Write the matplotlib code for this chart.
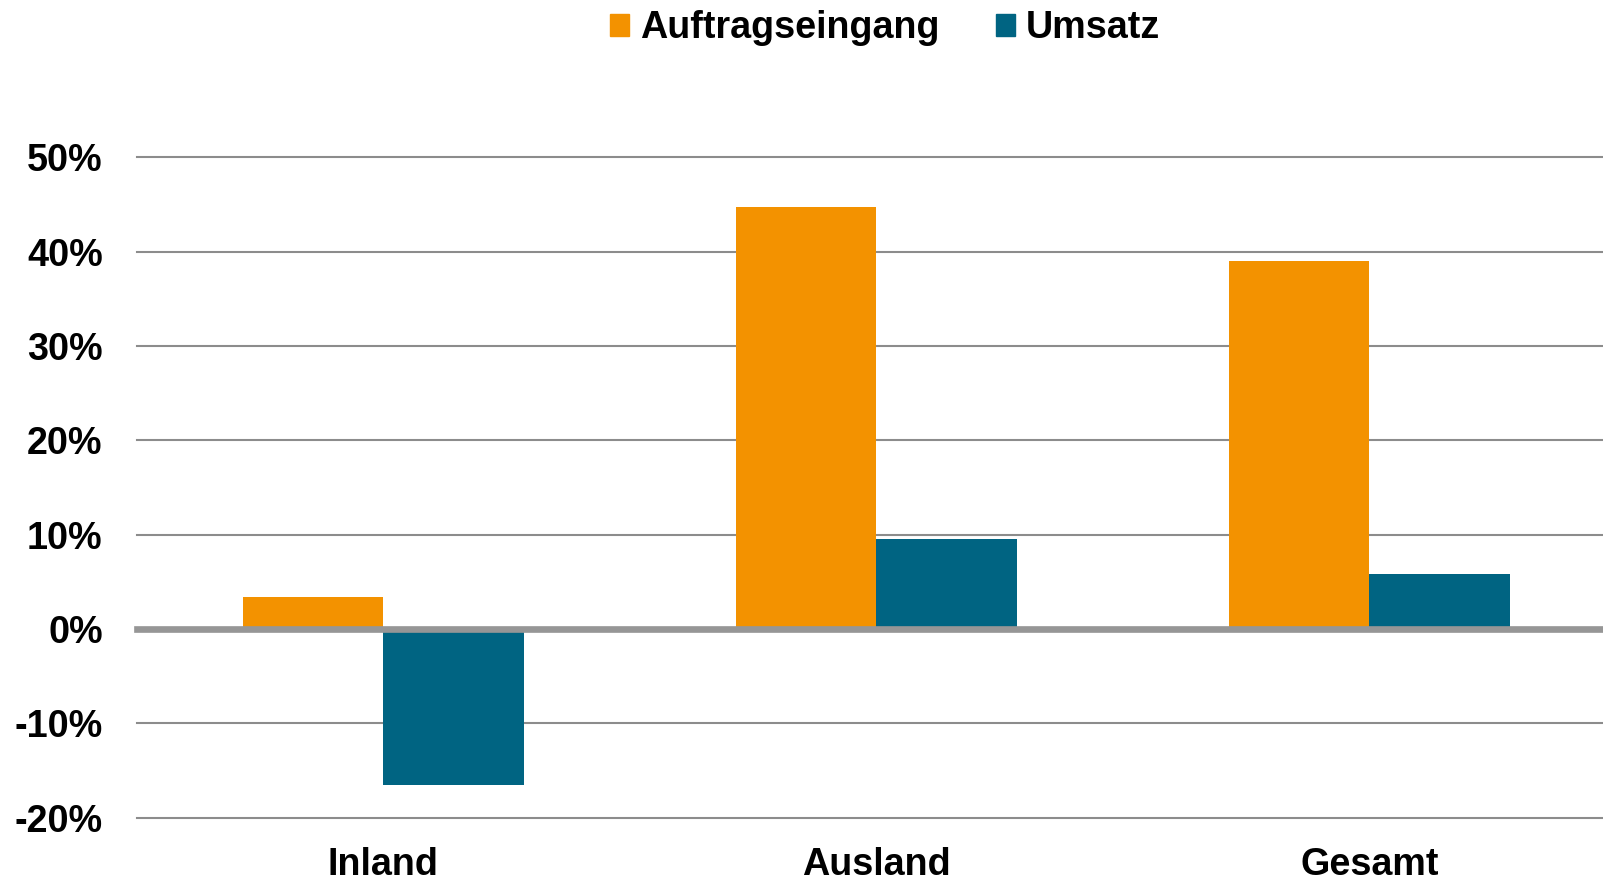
import matplotlib
matplotlib.use("Agg")
import matplotlib.pyplot as plt
import matplotlib.patches as mpatches
import numpy as np
from matplotlib.ticker import FuncFormatter

# ── data ──────────────────────────────────────────────────────────────────────
categories = ["Inland", "Ausland", "Gesamt"]
auftragseingang = [0.034, 0.447, 0.390]
umsatz = [-0.165, 0.095, 0.058]
y_ticks = [-0.2, -0.1, 0.0, 0.1, 0.2, 0.3, 0.4, 0.5]

# ── style ─────────────────────────────────────────────────────────────────────
C_ORANGE = "#F39200"
C_TEAL = "#006482"
C_GRID = "#8C8C8C"
C_ZERO = "#969696"
FONT = ["Liberation Sans", "DejaVu Sans"]
FS = 27.2

plt.rcParams["font.family"] = FONT
plt.rcParams["font.weight"] = "bold"

fig = plt.figure(figsize=(16.03, 8.80), dpi=100)
ax = fig.add_axes([0.0853, 0.0709, 0.9147, 0.7502])

x = np.arange(len(categories))
w = 0.2854
ax.bar(x - w / 2, auftragseingang, width=w, color=C_ORANGE, zorder=3,
       label="Auftragseingang")
ax.bar(x + w / 2, umsatz, width=w, color=C_TEAL, zorder=3, label="Umsatz")

# gridlines (behind bars) and heavy zero line (on top)
for t in y_ticks:
    if t == 0:
        ax.axhline(0, color=C_ZERO, lw=4.8, zorder=4, clip_on=False)
    else:
        ax.axhline(t, color=C_GRID, lw=1.5, zorder=1, clip_on=False)

ax.set_xlim(-0.5, 2.474)
ax.set_ylim(-0.2, 0.5)
ax.set_yticks(y_ticks)
ax.yaxis.set_major_formatter(FuncFormatter(lambda v, _: f"{v * 100:.0f}%"))
ax.set_xticks(x)
ax.set_xticklabels(categories)
ax.tick_params(axis="y", length=0, pad=24.5, labelsize=FS)
ax.tick_params(axis="x", length=0, pad=21, labelsize=FS)
for lab in ax.get_xticklabels() + ax.get_yticklabels():
    lab.set_fontweight("bold")
for s in ax.spines.values():
    s.set_visible(False)

handles = [
    mpatches.Patch(color=C_ORANGE, label="Auftragseingang"),
    mpatches.Patch(color=C_TEAL, label="Umsatz"),
]
fig.legend(handles=handles, loc="center", bbox_to_anchor=(0.552, 0.968),
           ncol=2, frameon=False, prop={"weight": "bold", "size": FS},
           handlelength=0.51, handleheight=0.51, handletextpad=0.27,
           columnspacing=1.5, borderpad=0, borderaxespad=0)

fig.savefig("out.png", dpi=100, facecolor="white")
